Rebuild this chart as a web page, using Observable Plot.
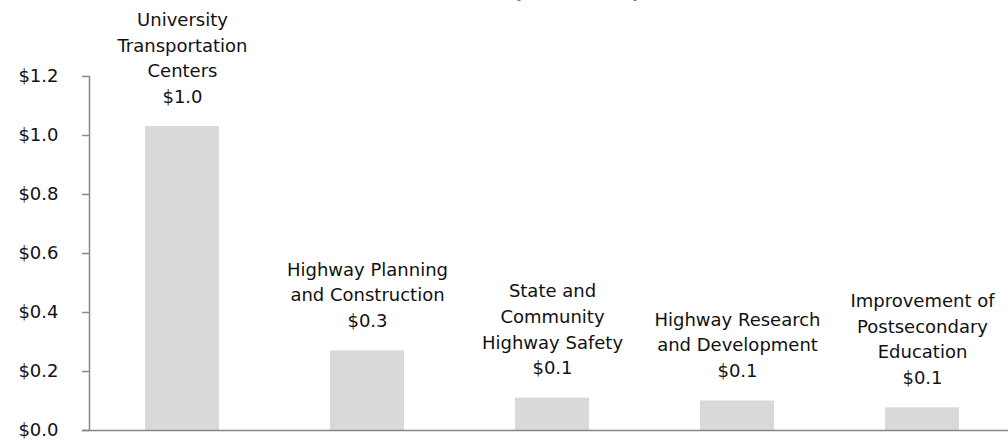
<!DOCTYPE html>
<html><head><meta charset="utf-8">
<script src="https://cdn.jsdelivr.net/npm/d3@7"></script>
<script src="https://cdn.jsdelivr.net/npm/@observablehq/plot@0.6"></script>
<style>
body{margin:0;background:#fff;}
#wrap{position:relative;width:1008px;height:442px;overflow:hidden;}
#title{position:absolute;top:-20px;left:0;width:1154px;text-align:center;font:bold 20px "DejaVu Sans";color:#000;line-height:23px;}
#chart{position:absolute;top:0;left:0;}
</style></head><body>
<div id="wrap"><div id="title">(in billions)</div><div id="chart"></div></div>
<script>
const categories = [
  "University\nTransportation\nCenters",
  "Highway Planning\nand Construction",
  "State and\nCommunity\nHighway Safety",
  "Highway Research\nand Development",
  "Improvement of\nPostsecondary\nEducation"
];
const values = [1.03, 0.27, 0.11, 0.10, 0.077];
const valueLabels = ["$1.0", "$0.3", "$0.1", "$0.1", "$0.1"];
const yTicks = [0, 0.2, 0.4, 0.6, 0.8, 1.0, 1.2];

const data = categories.map((c, i) => ({cat: c, value: values[i], label: valueLabels[i]}));
const font = "DejaVu Sans";

const chart = Plot.plot({
  width: 1008,
  height: 442,
  marginLeft: 89,
  marginRight: -8,
  marginTop: 76,
  marginBottom: 12,
  style: {fontFamily: font, fontSize: "18px", color: "#111", background: "transparent"},
  x: {domain: categories, paddingInner: 0.6, paddingOuter: 0.3, axis: null},
  y: {domain: [0, 1.2], axis: null},
  marks: [
    Plot.barY(data, {x: "cat", y: "value", fill: "#d9d9d9"}),
    Plot.frame({anchor: "left", stroke: "#888", strokeWidth: 1.5}),
    Plot.ruleY([0], {stroke: "#888", strokeWidth: 1.5, insetLeft: -7}),
    Plot.axisY({ticks: yTicks, tickFormat: d => "$" + d.toFixed(1), tickSize: 7, tickPadding: 24,
      stroke: "#888", strokeWidth: 1.5, fill: "#111", fontSize: 18, label: null}),
    Plot.text(data, {x: "cat", y: "value", text: d => d.cat + "\n" + d.label,
      lineAnchor: "bottom", dy: -24, fontSize: 18, lineHeight: 1.42, fill: "#111"})
  ]
});
document.getElementById("chart").appendChild(chart);
</script>
</body></html>
